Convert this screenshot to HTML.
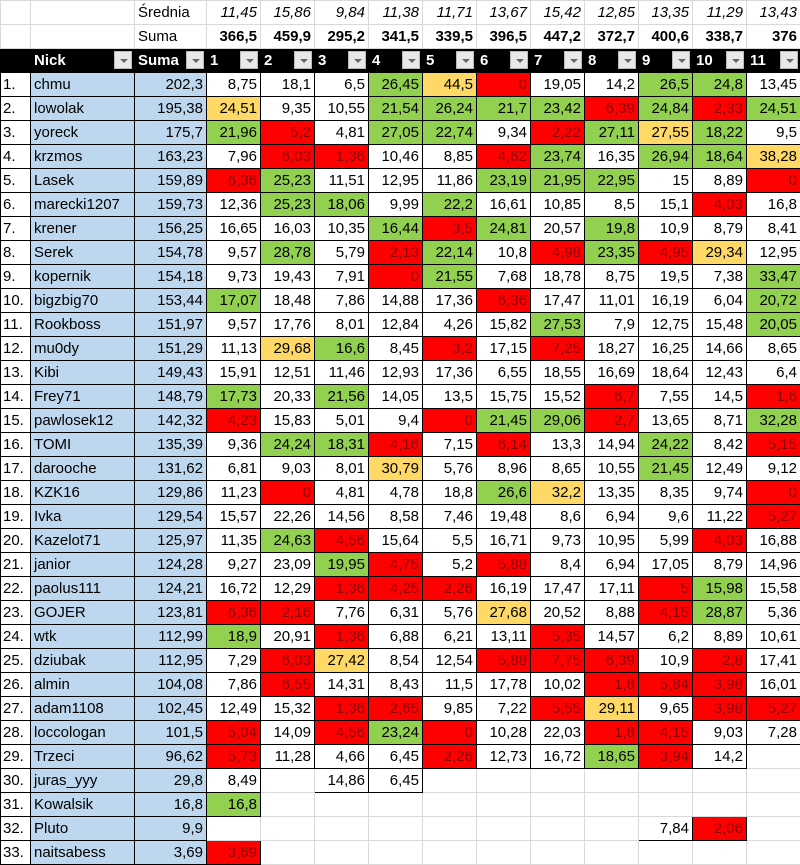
<!DOCTYPE html>
<html><head><meta charset="utf-8"><style>
body{margin:0;background:#fff;width:800px;height:865px;overflow:hidden}
table{border-collapse:collapse;table-layout:fixed;width:800px;font-family:"Liberation Sans",Arial,sans-serif;font-size:15px}
td{height:23px;padding:0 3px;border:1px solid #000;text-align:right;white-space:nowrap;overflow:hidden;color:#000;line-height:23px}
tr.t td{border:1px solid #d9d9d9}
tr.t td.l{text-align:left}
tr.i td{font-style:italic}
tr.b td{font-weight:bold}
tr.h td{background:#000;color:#fff;font-weight:bold;text-align:left;position:relative}
.dd{position:absolute;right:2px;top:2px;width:18px;height:18px;background:#e8e8e8;border:1px solid #bbb;box-sizing:border-box}
.dd:after{content:"";position:absolute;left:5px;top:7px;border-left:4px solid transparent;border-right:4px solid transparent;border-top:4px solid #666}
td.k{text-align:left;padding-left:2px}
td.n{text-align:left;background:#bdd7ee;padding-left:3px}
td.s{background:#bdd7ee}
.g{background:#92d050}
.r{background:#ff0000;color:#8b0000}
.y{background:#ffd966}
td.e{border:1px solid #d9d9d9}
</style></head><body>
<table>
<colgroup><col style="width:30px"><col style="width:104px"><col style="width:72px"><col style="width:54px"><col style="width:54px"><col style="width:54px"><col style="width:54px"><col style="width:54px"><col style="width:54px"><col style="width:54px"><col style="width:54px"><col style="width:54px"><col style="width:54px"><col style="width:54px"></colgroup>
<tr class="t i"><td></td><td></td><td class="l" style="font-style:normal">Średnia</td><td>11,45</td><td>15,86</td><td>9,84</td><td>11,38</td><td>11,71</td><td>13,67</td><td>15,42</td><td>12,85</td><td>13,35</td><td>11,29</td><td>13,43</td></tr>
<tr class="t b"><td></td><td></td><td class="l" style="font-weight:normal">Suma</td><td>366,5</td><td>459,9</td><td>295,2</td><td>341,5</td><td>339,5</td><td>396,5</td><td>447,2</td><td>372,7</td><td>400,6</td><td>338,7</td><td>376</td></tr>
<tr class="h"><td></td><td>Nick<span class="dd"></span></td><td>Suma<span class="dd"></span></td><td>1<span class="dd"></span></td><td>2<span class="dd"></span></td><td>3<span class="dd"></span></td><td>4<span class="dd"></span></td><td>5<span class="dd"></span></td><td>6<span class="dd"></span></td><td>7<span class="dd"></span></td><td>8<span class="dd"></span></td><td>9<span class="dd"></span></td><td>10<span class="dd"></span></td><td>11<span class="dd"></span></td></tr>
<tr><td class="k">1.</td><td class="n">chmu</td><td class="s">202,3</td><td>8,75</td><td>18,1</td><td>6,5</td><td class="g">26,45</td><td class="y">44,5</td><td class="r">0</td><td>19,05</td><td>14,2</td><td class="g">26,5</td><td class="g">24,8</td><td>13,45</td></tr>
<tr><td class="k">2.</td><td class="n">lowolak</td><td class="s">195,38</td><td class="y">24,51</td><td>9,35</td><td>10,55</td><td class="g">21,54</td><td class="g">26,24</td><td class="g">21,7</td><td class="g">23,42</td><td class="r">6,39</td><td class="g">24,84</td><td class="r">2,33</td><td class="g">24,51</td></tr>
<tr><td class="k">3.</td><td class="n">yoreck</td><td class="s">175,7</td><td class="g">21,96</td><td class="r">5,2</td><td>4,81</td><td class="g">27,05</td><td class="g">22,74</td><td>9,34</td><td class="r">2,22</td><td class="g">27,11</td><td class="y">27,55</td><td class="g">18,22</td><td>9,5</td></tr>
<tr><td class="k">4.</td><td class="n">krzmos</td><td class="s">163,23</td><td>7,96</td><td class="r">6,03</td><td class="r">1,36</td><td>10,46</td><td>8,85</td><td class="r">4,62</td><td class="g">23,74</td><td>16,35</td><td class="g">26,94</td><td class="g">18,64</td><td class="y">38,28</td></tr>
<tr><td class="k">5.</td><td class="n">Lasek</td><td class="s">159,89</td><td class="r">6,36</td><td class="g">25,23</td><td>11,51</td><td>12,95</td><td>11,86</td><td class="g">23,19</td><td class="g">21,95</td><td class="g">22,95</td><td>15</td><td>8,89</td><td class="r">0</td></tr>
<tr><td class="k">6.</td><td class="n">marecki1207</td><td class="s">159,73</td><td>12,36</td><td class="g">25,23</td><td class="g">18,06</td><td>9,99</td><td class="g">22,2</td><td>16,61</td><td>10,85</td><td>8,5</td><td>15,1</td><td class="r">4,03</td><td>16,8</td></tr>
<tr><td class="k">7.</td><td class="n">krener</td><td class="s">156,25</td><td>16,65</td><td>16,03</td><td>10,35</td><td class="g">16,44</td><td class="r">3,5</td><td class="g">24,81</td><td>20,57</td><td class="g">19,8</td><td>10,9</td><td>8,79</td><td>8,41</td></tr>
<tr><td class="k">8.</td><td class="n">Serek</td><td class="s">154,78</td><td>9,57</td><td class="g">28,78</td><td>5,79</td><td class="r">2,13</td><td class="g">22,14</td><td>10,8</td><td class="r">4,98</td><td class="g">23,35</td><td class="r">4,95</td><td class="y">29,34</td><td>12,95</td></tr>
<tr><td class="k">9.</td><td class="n">kopernik</td><td class="s">154,18</td><td>9,73</td><td>19,43</td><td>7,91</td><td class="r">0</td><td class="g">21,55</td><td>7,68</td><td>18,78</td><td>8,75</td><td>19,5</td><td>7,38</td><td class="g">33,47</td></tr>
<tr><td class="k">10.</td><td class="n">bigzbig70</td><td class="s">153,44</td><td class="g">17,07</td><td>18,48</td><td>7,86</td><td>14,88</td><td>17,36</td><td class="r">6,36</td><td>17,47</td><td>11,01</td><td>16,19</td><td>6,04</td><td class="g">20,72</td></tr>
<tr><td class="k">11.</td><td class="n">Rookboss</td><td class="s">151,97</td><td>9,57</td><td>17,76</td><td>8,01</td><td>12,84</td><td>4,26</td><td>15,82</td><td class="g">27,53</td><td>7,9</td><td>12,75</td><td>15,48</td><td class="g">20,05</td></tr>
<tr><td class="k">12.</td><td class="n">mu0dy</td><td class="s">151,29</td><td>11,13</td><td class="y">29,68</td><td class="g">16,6</td><td>8,45</td><td class="r">3,2</td><td>17,15</td><td class="r">7,25</td><td>18,27</td><td>16,25</td><td>14,66</td><td>8,65</td></tr>
<tr><td class="k">13.</td><td class="n">Kibi</td><td class="s">149,43</td><td>15,91</td><td>12,51</td><td>11,46</td><td>12,93</td><td>17,36</td><td>6,55</td><td>18,55</td><td>16,69</td><td>18,64</td><td>12,43</td><td>6,4</td></tr>
<tr><td class="k">14.</td><td class="n">Frey71</td><td class="s">148,79</td><td class="g">17,73</td><td>20,33</td><td class="g">21,56</td><td>14,05</td><td>13,5</td><td>15,75</td><td>15,52</td><td class="r">6,7</td><td>7,55</td><td>14,5</td><td class="r">1,6</td></tr>
<tr><td class="k">15.</td><td class="n">pawlosek12</td><td class="s">142,32</td><td class="r">4,23</td><td>15,83</td><td>5,01</td><td>9,4</td><td class="r">0</td><td class="g">21,45</td><td class="g">29,06</td><td class="r">2,7</td><td>13,65</td><td>8,71</td><td class="g">32,28</td></tr>
<tr><td class="k">16.</td><td class="n">TOMI</td><td class="s">135,39</td><td>9,36</td><td class="g">24,24</td><td class="g">18,31</td><td class="r">4,16</td><td>7,15</td><td class="r">6,14</td><td>13,3</td><td>14,94</td><td class="g">24,22</td><td>8,42</td><td class="r">5,15</td></tr>
<tr><td class="k">17.</td><td class="n">darooche</td><td class="s">131,62</td><td>6,81</td><td>9,03</td><td>8,01</td><td class="y">30,79</td><td>5,76</td><td>8,96</td><td>8,65</td><td>10,55</td><td class="g">21,45</td><td>12,49</td><td>9,12</td></tr>
<tr><td class="k">18.</td><td class="n">KZK16</td><td class="s">129,86</td><td>11,23</td><td class="r">0</td><td>4,81</td><td>4,78</td><td>18,8</td><td class="g">26,6</td><td class="y">32,2</td><td>13,35</td><td>8,35</td><td>9,74</td><td class="r">0</td></tr>
<tr><td class="k">19.</td><td class="n">Ivka</td><td class="s">129,54</td><td>15,57</td><td>22,26</td><td>14,56</td><td>8,58</td><td>7,46</td><td>19,48</td><td>8,6</td><td>6,94</td><td>9,6</td><td>11,22</td><td class="r">5,27</td></tr>
<tr><td class="k">20.</td><td class="n">Kazelot71</td><td class="s">125,97</td><td>11,35</td><td class="g">24,63</td><td class="r">4,56</td><td>15,64</td><td>5,5</td><td>16,71</td><td>9,73</td><td>10,95</td><td>5,99</td><td class="r">4,03</td><td>16,88</td></tr>
<tr><td class="k">21.</td><td class="n">janior</td><td class="s">124,28</td><td>9,27</td><td>23,09</td><td class="g">19,95</td><td class="r">4,75</td><td>5,2</td><td class="r">5,88</td><td>8,4</td><td>6,94</td><td>17,05</td><td>8,79</td><td>14,96</td></tr>
<tr><td class="k">22.</td><td class="n">paolus111</td><td class="s">124,21</td><td>16,72</td><td>12,29</td><td class="r">1,36</td><td class="r">4,25</td><td class="r">2,26</td><td>16,19</td><td>17,47</td><td>17,11</td><td class="r">5</td><td class="g">15,98</td><td>15,58</td></tr>
<tr><td class="k">23.</td><td class="n">GOJER</td><td class="s">123,81</td><td class="r">6,36</td><td class="r">2,16</td><td>7,76</td><td>6,31</td><td>5,76</td><td class="y">27,68</td><td>20,52</td><td>8,88</td><td class="r">4,15</td><td class="g">28,87</td><td>5,36</td></tr>
<tr><td class="k">24.</td><td class="n">wtk</td><td class="s">112,99</td><td class="g">18,9</td><td>20,91</td><td class="r">1,36</td><td>6,88</td><td>6,21</td><td>13,11</td><td class="r">5,35</td><td>14,57</td><td>6,2</td><td>8,89</td><td>10,61</td></tr>
<tr><td class="k">25.</td><td class="n">dziubak</td><td class="s">112,95</td><td>7,29</td><td class="r">6,03</td><td class="y">27,42</td><td>8,54</td><td>12,54</td><td class="r">5,88</td><td class="r">7,75</td><td class="r">6,39</td><td>10,9</td><td class="r">2,8</td><td>17,41</td></tr>
<tr><td class="k">26.</td><td class="n">almin</td><td class="s">104,08</td><td>7,86</td><td class="r">6,55</td><td>14,31</td><td>8,43</td><td>11,5</td><td>17,78</td><td>10,02</td><td class="r">1,8</td><td class="r">5,84</td><td class="r">3,98</td><td>16,01</td></tr>
<tr><td class="k">27.</td><td class="n">adam1108</td><td class="s">102,45</td><td>12,49</td><td>15,32</td><td class="r">1,36</td><td class="r">2,65</td><td>9,85</td><td>7,22</td><td class="r">5,55</td><td class="y">29,11</td><td>9,65</td><td class="r">3,98</td><td class="r">5,27</td></tr>
<tr><td class="k">28.</td><td class="n">loccologan</td><td class="s">101,5</td><td class="r">5,04</td><td>14,09</td><td class="r">4,56</td><td class="g">23,24</td><td class="r">0</td><td>10,28</td><td>22,03</td><td class="r">1,8</td><td class="r">4,15</td><td>9,03</td><td>7,28</td></tr>
<tr><td class="k">29.</td><td class="n">Trzeci</td><td class="s">96,62</td><td class="r">5,73</td><td>11,28</td><td>4,66</td><td>6,45</td><td class="r">2,26</td><td>12,73</td><td>16,72</td><td class="g">18,65</td><td class="r">3,94</td><td>14,2</td><td class="e"></td></tr>
<tr><td class="k">30.</td><td class="n">juras_yyy</td><td class="s">29,8</td><td>8,49</td><td class="e"></td><td>14,86</td><td>6,45</td><td class="e"></td><td class="e"></td><td class="e"></td><td class="e"></td><td class="e"></td><td class="e"></td><td class="e"></td></tr>
<tr><td class="k">31.</td><td class="n">Kowalsik</td><td class="s">16,8</td><td class="g">16,8</td><td class="e"></td><td class="e"></td><td class="e"></td><td class="e"></td><td class="e"></td><td class="e"></td><td class="e"></td><td class="e"></td><td class="e"></td><td class="e"></td></tr>
<tr><td class="k">32.</td><td class="n">Pluto</td><td class="s">9,9</td><td class="e"></td><td class="e"></td><td class="e"></td><td class="e"></td><td class="e"></td><td class="e"></td><td class="e"></td><td class="e"></td><td>7,84</td><td class="r">2,06</td><td class="e"></td></tr>
<tr><td class="k">33.</td><td class="n">naitsabess</td><td class="s">3,69</td><td class="r">3,69</td><td class="e"></td><td class="e"></td><td class="e"></td><td class="e"></td><td class="e"></td><td class="e"></td><td class="e"></td><td class="e"></td><td class="e"></td><td class="e"></td></tr>
</table>
</body></html>
